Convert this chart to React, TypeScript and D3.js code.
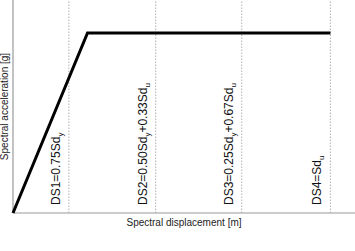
import React from "react";
import * as d3 from "d3";

// Capacity curve (normalised): spectral displacement vs spectral acceleration
const curveSd = [0, 1, 4.26];
const curveSa = [0, 1, 1];

// Damage-state thresholds (in units of Sd_y)
const thresholdSd = [0.75, 1.915, 3.07, 4.26];
const thresholdLabels = [
  [{ t: "DS1=0.75Sd" }, { t: "y", sub: true }],
  [{ t: "DS2=0.50Sd" }, { t: "y", sub: true }, { t: "+0.33Sd" }, { t: "u", sub: true }],
  [{ t: "DS3=0.25Sd" }, { t: "y", sub: true }, { t: "+0.67Sd" }, { t: "u", sub: true }],
  [{ t: "DS4=Sd" }, { t: "u", sub: true }],
];

const xLabel = "Spectral displacement [m]";
const yLabel = "Spectral acceleration [g]";

const W = 355;
const H = 251;
const left = 13;
const bottom = 213;

export default function App() {
  const x = d3.scaleLinear().domain([0, 4.59]).range([left, W]);
  const y = d3.scaleLinear().domain([0, 1.183]).range([bottom, 0]);
  const pts: [number, number][] = curveSd.map((d, i) => [d, curveSa[i]]);
  const line = d3
    .line<[number, number]>()
    .x((d) => x(d[0]))
    .y((d) => y(d[1]));
  const font = "Liberation Sans, Arial, sans-serif";
  return (
    <svg
      width={W}
      height={H}
      style={{ position: "absolute", left: 0, top: 0, display: "block", background: "#fff" }}
    >
      {/* threshold lines */}
      {thresholdSd.map((t, i) => (
        <line
          key={"t" + i}
          x1={x(t)}
          x2={x(t)}
          y1={y(0)}
          y2={y(1.183)}
          stroke="#b0b0b0"
          strokeWidth={1}
          strokeDasharray="1.5,1.5"
        />
      ))}
      {/* axes */}
      <line x1={x(0)} x2={x(4.59)} y1={y(0)} y2={y(0)} stroke="#9a9a9a" strokeWidth={1.2} />
      <line x1={x(0)} x2={x(0)} y1={y(0)} y2={y(1.183)} stroke="#9a9a9a" strokeWidth={1.2} />
      {/* curve */}
      <path d={line(pts) || ""} fill="none" stroke="#000" strokeWidth={3} strokeLinejoin="miter" />
      {/* threshold labels */}
      {thresholdSd.map((t, i) => (
        <text
          key={"l" + i}
          transform={`translate(${x(t) - 9},205) rotate(-90)`}
          fontFamily={font}
          fontSize={12}
          fill="#111"
        >
          {thresholdLabels[i].map((s: any, j) => (
            <tspan
              key={j}
              fontSize={s.sub ? 8 : 12}
              dy={s.sub ? 3 : j > 0 ? -3 : 0}
            >
              {s.t}
            </tspan>
          ))}
        </text>
      ))}
      {/* axis labels */}
      <text
        x={(x(0) + W) / 2}
        y={226}
        textAnchor="middle"
        fontFamily={font}
        fontSize={10}
        fill="#222"
      >
        {xLabel}
      </text>
      <text
        transform={`translate(8,${bottom / 2}) rotate(-90)`}
        textAnchor="middle"
        fontFamily={font}
        fontSize={10}
        fill="#222"
      >
        {yLabel}
      </text>
    </svg>
  );
}
